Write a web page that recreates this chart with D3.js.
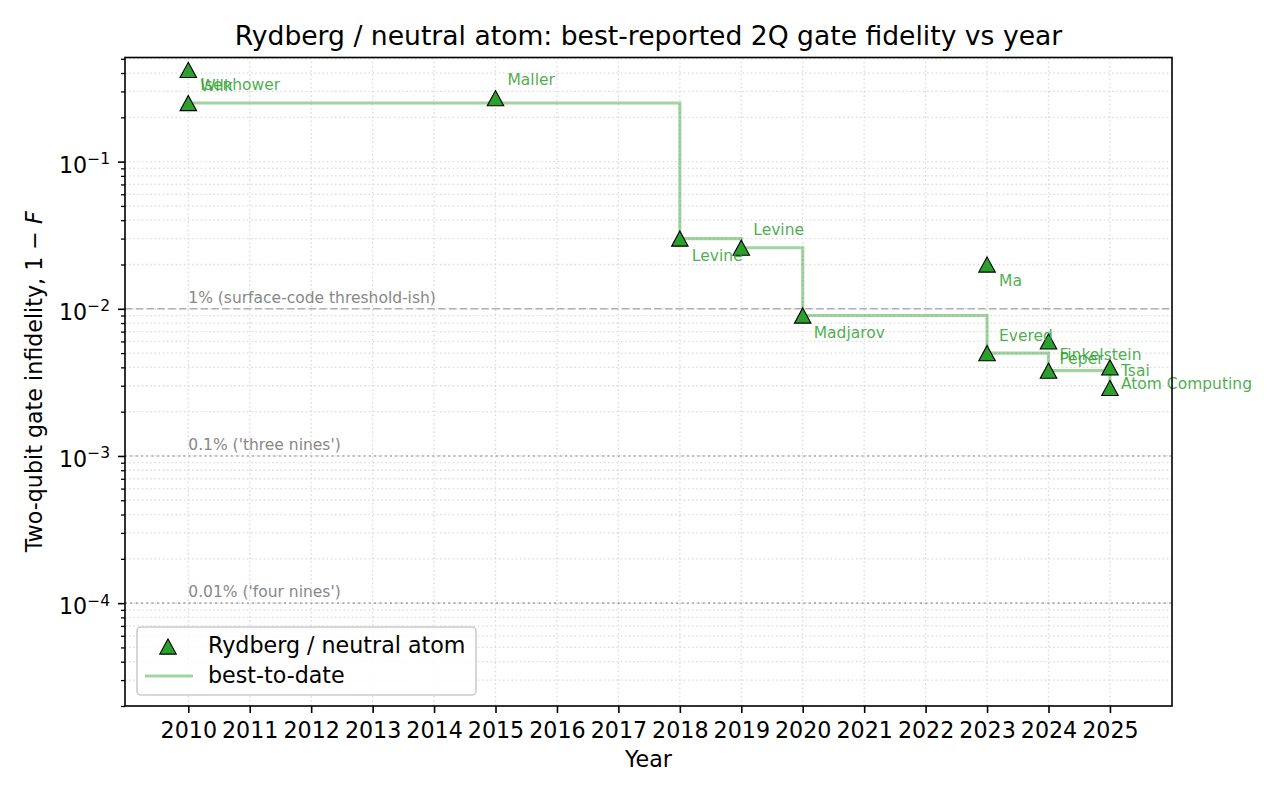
<!DOCTYPE html>
<html>
<head>
<meta charset="utf-8">
<script src="https://cdn.jsdelivr.net/npm/d3@7"></script>
<style>
  body { margin: 0; background: #fff; }
  svg { display: block; }
  text { font-family: "DejaVu Sans", sans-serif; }
</style>
</head>
<body>
<div id="chart"></div>
<script>
// ---- data ----
const years = [2010, 2010, 2015, 2018, 2019, 2020, 2023, 2023, 2024, 2024, 2025, 2025];
const names = ["Wilk", "Isenhower", "Maller", "Levine", "Levine", "Madjarov", "Ma",
               "Evered", "Finkelstein", "Peper", "Tsai", "Atom Computing"];
const infidelity = [0.42, 0.25, 0.27, 0.03, 0.026, 0.009, 0.02, 0.005, 0.006, 0.0038, 0.004, 0.0029];

const yearTicks = [2010, 2011, 2012, 2013, 2014, 2015, 2016, 2017, 2018, 2019, 2020,
                   2021, 2022, 2023, 2024, 2025];
const decadeTicks = [1e-4, 1e-3, 1e-2, 1e-1];
const decadeExps = ["\u22124", "\u22123", "\u22122", "\u22121"];
const minorMantissa = [2, 3, 4, 5, 6, 7, 8, 9];
const minorDecades = [1e-5, 1e-4, 1e-3, 1e-2, 1e-1];

const thresholds = [0.01, 0.001, 0.0001];
const thresholdLabels = ["1% (surface-code threshold-ish)", "0.1% ('three nines')", "0.01% ('four nines')"];

// ---- layout ----
const W = 1280, H = 800;
const pL = 125, pR = 1172, pT = 57.5, pB = 706;
// label nudges [dx, dy] in px, per point
const labelShift = [[12, 21], [12, -13], [12, -13.5], [12, 22.5], [12, -12.5], [11, 22],
                    [12, 21.5], [12, -12.5], [11, 18.5], [11, -6.5], [11, 9], [11, 1.5]];

const green = "#2ca02c";
const fs = 22.2, fsSmall = 15.5;

const svg = d3.select("#chart").append("svg")
    .attr("width", W).attr("height", H);

const x = d3.scaleLinear().domain([2008.97, 2026.01]).range([pL, pR]);
const y = d3.scaleLog().domain([2.0e-5, 0.51]).range([pB, pT]);

const minorTicks = [];
minorDecades.forEach(d => minorMantissa.forEach(m => {
    const v = d * m;
    if (v >= y.domain()[0] && v <= y.domain()[1]) minorTicks.push(v);
}));

// grid
const grid = svg.append("g")
    .attr("stroke", "#dcdcdc").attr("stroke-width", 1.3)
    .attr("stroke-dasharray", "1.6,2.6");
grid.selectAll(".gx").data(yearTicks).enter().append("line")
    .attr("x1", d => x(d)).attr("x2", d => x(d))
    .attr("y1", pT).attr("y2", pB);
grid.selectAll(".gy").data(decadeTicks.concat(minorTicks)).enter().append("line")
    .attr("x1", pL).attr("x2", pR)
    .attr("y1", d => y(d)).attr("y2", d => y(d));

// threshold lines
svg.selectAll(".thr").data(thresholds).enter().append("line")
    .attr("x1", pL).attr("x2", pR)
    .attr("y1", d => y(d)).attr("y2", d => y(d))
    .attr("stroke", (d, i) => i === 0 ? "#b0b0b0" : "#a8a8a8")
    .attr("stroke-width", 1.6)
    .attr("stroke-dasharray", (d, i) => i === 0 ? "7.5,3.3" : "2,3.3");

svg.selectAll(".thrlab").data(thresholds).enter().append("text")
    .attr("x", x(2010)).attr("y", d => y(d) - 6)
    .attr("font-size", fsSmall).attr("fill", "#888")
    .text((d, i) => thresholdLabels[i]);

// best-to-date step line
const uniqYears = Array.from(new Set(years)).sort((a, b) => a - b);
let best = Infinity;
const bestToDate = uniqYears.map(yr => {
    const m = d3.min(infidelity.filter((v, i) => years[i] === yr));
    best = Math.min(best, m);
    return [yr, best];
});

const line = d3.line()
    .x(d => x(d[0])).y(d => y(d[1]))
    .curve(d3.curveStepAfter);

svg.append("path").datum(bestToDate)
    .attr("d", line)
    .attr("fill", "none")
    .attr("stroke", green).attr("stroke-opacity", 0.45)
    .attr("stroke-width", 3.1);

// markers
function triPath(s) {
    // upright triangle, bbox centred on the point
    const w = s, h = s * 0.92;
    return `M0,${-h / 2}L${w / 2},${h / 2}L${-w / 2},${h / 2}Z`;
}
svg.selectAll(".pt").data(years).enter().append("path")
    .attr("transform", (d, i) => `translate(${x(d)},${y(infidelity[i])})`)
    .attr("d", triPath(16.5))
    .attr("fill", green).attr("stroke", "#000").attr("stroke-width", 1.1);

// point labels
svg.selectAll(".lab").data(names).enter().append("text")
    .attr("x", (d, i) => x(years[i]) + labelShift[i][0])
    .attr("y", (d, i) => y(infidelity[i]) + labelShift[i][1])
    .attr("font-size", fsSmall)
    .attr("fill", green).attr("fill-opacity", 0.85)
    .text(d => d);

// axes
const xAxis = svg.append("g")
    .attr("transform", `translate(0,${pB})`)
    .call(d3.axisBottom(x).tickValues(yearTicks).tickSize(7).tickFormat(d3.format("d")));
xAxis.select(".domain").remove();
xAxis.selectAll("line").attr("stroke", "#000").attr("stroke-width", 1.6);
xAxis.selectAll("text")
    .attr("dy", null).attr("y", 31.5)
    .attr("font-size", fs).attr("fill", "#000")
    .attr("font-family", "DejaVu Sans, sans-serif");

const yMinor = svg.append("g")
    .attr("transform", `translate(${pL},0)`)
    .call(d3.axisLeft(y).tickValues(minorTicks).tickSize(4).tickFormat(""));
yMinor.select(".domain").remove();
yMinor.selectAll("line").attr("stroke", "#000").attr("stroke-width", 1.3);

const yAxis = svg.append("g")
    .attr("transform", `translate(${pL},0)`)
    .call(d3.axisLeft(y).tickValues(decadeTicks).tickSize(7).tickFormat(""));
yAxis.select(".domain").remove();
yAxis.selectAll("line").attr("stroke", "#000").attr("stroke-width", 1.6);
yAxis.selectAll(".tick").each(function (d, i) {
    const t = d3.select(this).append("text")
        .attr("x", -15).attr("y", 10.5)
        .attr("text-anchor", "end")
        .attr("fill", "#000").attr("font-size", fs)
        .attr("font-family", "DejaVu Sans, sans-serif");
    t.append("tspan").text("10");
    t.append("tspan").attr("dy", -8.5).attr("font-size", fsSmall).text(decadeExps[i]);
});

// spines
svg.append("rect")
    .attr("x", pL).attr("y", pT)
    .attr("width", pR - pL).attr("height", pB - pT)
    .attr("fill", "none").attr("stroke", "#000").attr("stroke-width", 1.6);

// titles
svg.append("text")
    .attr("x", (pL + pR) / 2).attr("y", 44.5)
    .attr("text-anchor", "middle").attr("font-size", 26.6)
    .text("Rydberg / neutral atom: best-reported 2Q gate fidelity vs year");

svg.append("text")
    .attr("x", (pL + pR) / 2).attr("y", 767)
    .attr("text-anchor", "middle").attr("font-size", fs)
    .text("Year");

const yl = svg.append("text")
    .attr("transform", `translate(42,${(pT + pB) / 2}) rotate(-90)`)
    .attr("text-anchor", "middle").attr("font-size", fs);
yl.append("tspan").text("Two-qubit gate infidelity, 1 \u2212 ");
yl.append("tspan").attr("font-style", "italic").text("F");

// legend
const lg = svg.append("g");
lg.append("rect")
    .attr("x", 137).attr("y", 627).attr("width", 339).attr("height", 68)
    .attr("rx", 4)
    .attr("fill", "#fff").attr("fill-opacity", 0.8)
    .attr("stroke", "#cccccc").attr("stroke-width", 1.6);
lg.append("path")
    .attr("transform", "translate(168,646.5)")
    .attr("d", triPath(16.5))
    .attr("fill", green).attr("stroke", "#000").attr("stroke-width", 1.1);
lg.append("line")
    .attr("x1", 145).attr("x2", 193).attr("y1", 676).attr("y2", 676)
    .attr("stroke", green).attr("stroke-opacity", 0.45).attr("stroke-width", 3.1);
lg.append("text").attr("x", 208).attr("y", 652.5).attr("font-size", fs)
    .text("Rydberg / neutral atom");
lg.append("text").attr("x", 208).attr("y", 682.5).attr("font-size", fs)
    .text("best-to-date");
</script>
</body>
</html>
